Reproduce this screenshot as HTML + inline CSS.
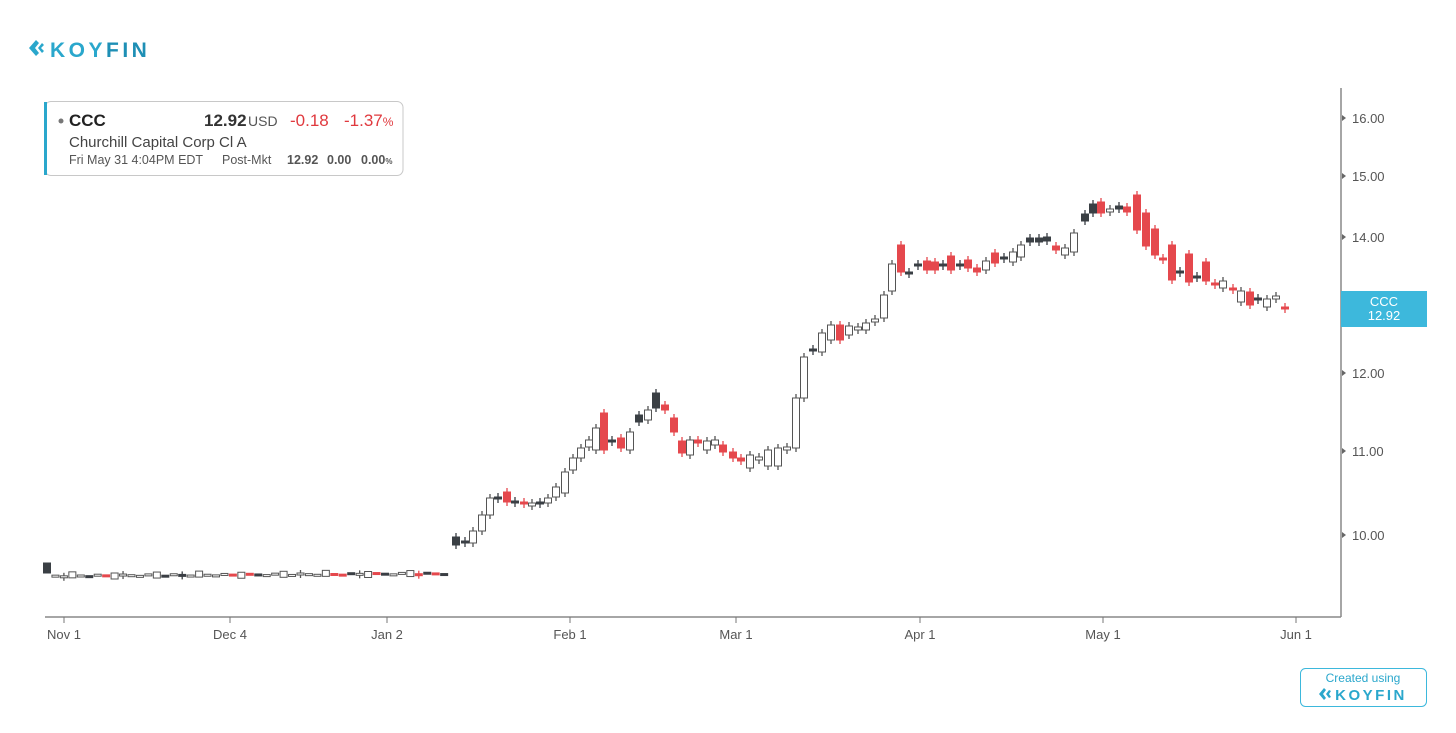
<!DOCTYPE html>
<html><head><meta charset="utf-8"><style>
body{margin:0;background:#fff;width:1456px;height:728px;overflow:hidden;font-family:"Liberation Sans",sans-serif;}
</style></head><body>
<svg id="s" width="1456" height="728" xmlns="http://www.w3.org/2000/svg" font-family="Liberation Sans, sans-serif">
<g fill="#2aa7cc">
<path d="M36 40 L29 48 L36 56 L39 53 L35 48 L39 43Z"/><path d="M42 43 L38 48 L42 53 L44 51 L41 48 L44 45Z"/>
</g>
<text x="50" y="57" font-size="21" font-weight="bold" fill="#2aa7cc" letter-spacing="3.5">KOY<tspan fill="#1e8fb5">FIN</tspan></text>
<rect x="45" y="101.5" width="358" height="74" rx="6" fill="#fff" stroke="#c8c8c8"/>
<rect x="44" y="102" width="3" height="73" fill="#2aa7cc"/>
<circle cx="61" cy="121" r="2.5" fill="#777"/>
<text x="69" y="126" font-size="17" font-weight="bold" fill="#222">CCC</text>
<text x="204" y="126" font-size="17" font-weight="bold" fill="#333">12.92</text>
<text x="248" y="126" font-size="14" fill="#555">USD</text>
<text x="290" y="126" font-size="17" fill="#e0393e">-0.18</text>
<text x="344" y="126" font-size="17" fill="#e0393e">-1.37<tspan font-size="12">%</tspan></text>
<text x="69" y="147" font-size="15" fill="#444">Churchill Capital Corp Cl A</text>
<text x="69" y="164" font-size="12.5" fill="#555">Fri May 31 4:04PM EDT</text>
<text x="222" y="164" font-size="12.5" fill="#555">Post-Mkt</text>
<text x="287" y="164" font-size="12.5" font-weight="bold" fill="#555">12.92</text>
<text x="327" y="164" font-size="12.5" font-weight="bold" fill="#555">0.00</text>
<text x="361" y="164" font-size="12.5" font-weight="bold" fill="#555">0.00<tspan font-size="8">%</tspan></text>
<line x1="1341" y1="88" x2="1341" y2="617" stroke="#888" stroke-width="1.5"/>
<line x1="45" y1="617" x2="1341" y2="617" stroke="#888" stroke-width="1.5"/>
<g id="ax" font-size="13" fill="#555"></g>
<g id="c"></g>
<rect x="1341" y="291" width="86" height="36" fill="#3db8dc"/>
<text x="1384" y="306" font-size="13" fill="#fff" text-anchor="middle">CCC</text>
<text x="1384" y="320" font-size="13" fill="#fff" text-anchor="middle">12.92</text>
<rect x="1300.5" y="668.5" width="126" height="38" rx="5" fill="#fff" stroke="#3db8dc"/>
<text x="1363" y="682" font-size="12" fill="#2aa7cc" text-anchor="middle">Created using</text>
<text x="1371" y="700" font-size="15" font-weight="bold" fill="#2aa7cc" text-anchor="middle" letter-spacing="2.5">KOYFIN</text>
<path d="M1324 688 L1319 694 L1324 700 L1326 698 L1323 694 L1326 690Z M1329 690 L1326 694 L1329 698 L1331 697 L1329 694 L1331 691Z" fill="#2aa7cc"/>
</svg>
<script>
var NS="http://www.w3.org/2000/svg",ax=document.getElementById('ax'),cg=document.getElementById('c');
function el(p,t,a,txt){var e=document.createElementNS(NS,t);for(var k in a)e.setAttribute(k,a[k]);if(txt)e.textContent=txt;p.appendChild(e);return e;}
[[118,"16.00"],[176,"15.00"],[237,"14.00"],[373,"12.00"],[451,"11.00"],[535,"10.00"]].forEach(function(t){
el(ax,'path',{d:'M1342 '+(t[0]-3)+' L1346 '+t[0]+' L1342 '+(t[0]+3)+'Z',fill:'#666'});
el(ax,'text',{x:1352,y:t[0]+5},t[1]);});
[[64,"Nov 1"],[230,"Dec 4"],[387,"Jan 2"],[570,"Feb 1"],[736,"Mar 1"],[920,"Apr 1"],[1103,"May 1"],[1296,"Jun 1"]].forEach(function(t){
el(ax,'line',{x1:t[0],y1:617,x2:t[0],y2:623,stroke:'#777'});
el(ax,'text',{x:t[0],y:639,'text-anchor':'middle'},t[1]);});
var C={w:'#555',r:'#e5484d',d:'#3a3f44'};
function cand(x,a,b,t,wk){if(wk===undefined)wk=4;var top=Math.min(a,b),bot=Math.max(a,b);if(bot-top<2)bot=top+2;
var col=C[t];if(wk>0)el(cg,'line',{x1:x,y1:top-wk,x2:x,y2:bot+wk,stroke:col,'stroke-width':1.3});
el(cg,'rect',{x:x-3.5,y:top,width:7,height:bot-top,fill:t=='w'?'#fff':col,stroke:col,'stroke-width':1});}
var ft="dwwwwdwrwwwwwwdwdwwwwwrwrdwwwwwwwwrrdwwrdwwwrdrdr";
for(var i=0;i<48;i++){var x=47+i*8.45;var y=575-i*0.05+((i*7)%3)*0.7;
var t=ft[i];if(i==0)cand(x,563,573,'d',0);else{var h=1,wk=0;if(i%5==3){h=6;wk=0;}else if(i%7==2){h=1;wk=3;}cand(x,y-h/2,y+h/2,t,wk);}}
var D=[[456,537,545,'d'],[465,541,543,'d'],[473,531,543,'w'],[482,515,531,'w'],[490,498,515,'w'],[498,497,499,'d'],[507,492,502,'r'],[515,501,503,'d'],[524,502,504,'r'],[532,503,506,'w'],[540,502,504,'d'],[548,498,503,'w'],[556,487,497,'w'],[565,472,493,'w'],[573,458,470,'w'],[581,448,458,'w'],[589,440,447,'w'],[596,428,450,'w'],[604,413,450,'r'],[612,440,442,'d'],[621,438,448,'r'],[630,432,450,'w'],[639,415,422,'d'],[648,410,420,'w'],[656,393,408,'d'],[665,405,410,'r'],[674,418,432,'r'],[682,441,453,'r'],[690,440,455,'w'],[698,440,443,'r'],[707,441,450,'w'],[715,440,445,'w'],[723,445,452,'r'],[733,452,458,'r'],[741,458,461,'r'],[750,455,468,'w'],[759,457,460,'w'],[768,450,466,'w'],[778,448,466,'w'],[787,447,450,'w'],[796,398,448,'w'],[804,357,398,'w'],[813,349,351,'d'],[822,333,352,'w'],[831,325,340,'w'],[840,325,340,'r'],[849,326,335,'w'],[858,327,330,'w'],[866,323,330,'w'],[875,319,322,'w'],[884,295,318,'w'],[892,264,291,'w'],[901,245,272,'r'],[909,272,274,'d'],[918,264,266,'d'],[927,261,270,'r'],[935,262,270,'r'],[943,264,266,'d'],[951,256,270,'r'],[960,264,266,'d'],[968,260,268,'r'],[977,268,272,'r'],[986,261,270,'w'],[995,253,263,'r'],[1004,257,259,'d'],[1013,252,262,'w'],[1021,245,257,'w'],[1030,238,242,'d'],[1039,238,242,'d'],[1047,237,241,'d'],[1056,246,250,'r'],[1065,248,255,'w'],[1074,233,252,'w'],[1085,214,221,'d'],[1093,204,213,'d'],[1101,202,213,'r'],[1110,209,212,'w'],[1119,206,209,'d'],[1127,207,212,'r'],[1137,195,230,'r'],[1146,213,246,'r'],[1155,229,255,'r'],[1163,258,260,'r'],[1172,245,280,'r'],[1180,271,273,'d'],[1189,254,282,'r'],[1197,276,278,'d'],[1206,262,281,'r'],[1215,283,285,'r'],[1223,281,288,'w'],[1233,288,290,'r'],[1241,291,302,'w'],[1250,292,305,'r'],[1258,298,300,'d'],[1267,299,307,'w'],[1276,296,299,'w'],[1285,307,309,'r']];
D.forEach(function(d){cand(d[0],d[1],d[2],d[3]);});
</script>
</body></html>
